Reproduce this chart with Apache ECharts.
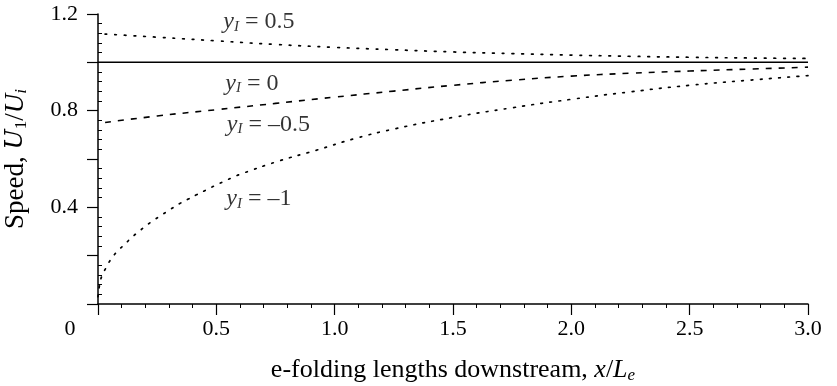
<!DOCTYPE html>
<html>
<head>
<meta charset="utf-8">
<script src="https://cdn.jsdelivr.net/npm/echarts@6/dist/echarts.min.js"></script>
<style>
  html, body { margin: 0; padding: 0; background: #fff; }
  #chart { width: 837px; height: 386px; }
</style>
</head>
<body>
<div id="chart"></div>
<script>
// axis ticks
var xTicks = [0, 0.5, 1.0, 1.5, 2.0, 2.5, 3.0];
var yLabelled = [0.4, 0.8, 1.2];

// y_I = 0.5 (dotted, decaying from above)
var xHalf = [0.03, 0.25, 0.5, 0.75, 1.0, 1.25, 1.5, 1.75, 2.0, 2.25, 2.5, 2.75, 3.0];
var yHalf = [1.117, 1.104, 1.089, 1.074, 1.062, 1.052, 1.043, 1.036, 1.030, 1.025, 1.021, 1.018, 1.016];

// y_I = 0 (solid)
var xZero = [0, 3.0];
var yZero = [1.0, 1.0];

// y_I = -0.5 (dashed)
var xMinusHalf = [0.03, 0.25, 0.5, 0.75, 1.0, 1.25, 1.5, 1.75, 2.0, 2.25, 2.5, 2.75, 3.0];
var yMinusHalf = [0.751, 0.778, 0.804, 0.830, 0.856, 0.881, 0.905, 0.926, 0.943, 0.955, 0.964, 0.972, 0.980];

// y_I = -1 (dotted, steep near the origin)
var xMinusOne = [0.0, 0.006, 0.016, 0.037, 0.058, 0.086, 0.112, 0.142, 0.174, 0.207, 0.239, 0.275,
                 0.308, 0.344, 0.379, 0.416, 0.455, 0.492, 0.529, 0.567, 0.604, 0.762, 0.918,
                 1.087, 1.25, 1.5, 1.75, 2.0, 2.25, 2.5, 2.75, 3.0];
var yMinusOne = [0.030, 0.075, 0.115, 0.155, 0.190, 0.222, 0.246, 0.275, 0.301, 0.327, 0.349, 0.372,
                 0.393, 0.415, 0.433, 0.452, 0.471, 0.489, 0.506, 0.523, 0.538, 0.591, 0.635,
                 0.685, 0.724, 0.772, 0.812, 0.847, 0.878, 0.905, 0.926, 0.945];

// curve labels
var labelNames = ['0.5', '0', '–0.5', '–1'];
var labelX = [0.68, 0.65, 0.72, 0.68];
var labelY = [1.168, 0.913, 0.743, 0.434];

function pairs(xs, ys) {
    return xs.map(function (x, i) { return [x, ys[i]]; });
}

var serif = 'Liberation Serif';
var ink = '#000';

var chart = echarts.init(document.getElementById('chart'));

var option = {
    backgroundColor: '#fff',
    animation: false,
    grid: {
        left: 98,
        right: 29,
        top: 14,
        bottom: 82,
        outerBoundsMode: 'none'
    },
    xAxis: {
        type: 'value',
        min: 0,
        max: 3,
        interval: 0.5,
        name: 'e-folding lengths downstream, {i|x}/{i|L}{sub|e}',
        nameLocation: 'middle',
        nameGap: 52,
        nameTextStyle: {
            fontFamily: serif,
            fontSize: 26,
            color: ink,
            rich: {
                i: { fontFamily: serif, fontStyle: 'italic', fontSize: 26, color: ink },
                sub: { fontFamily: serif, fontStyle: 'italic', fontSize: 17, color: ink, padding: [11, 0, 0, 0] }
            }
        },
        axisLine: { lineStyle: { color: ink, width: 1.5 } },
        axisTick: { length: 11, lineStyle: { color: ink, width: 1.2 } },
        minorTick: { show: true, splitNumber: 5, length: 4, lineStyle: { color: ink, width: 1 } },
        splitLine: { show: false },
        axisLabel: {
            margin: 14,
            color: ink,
            fontFamily: serif,
            fontSize: 22,
            formatter: function (v) {
                if (xTicks.indexOf(v) < 0) return '';
                if (v === 0) return '{zero|0}';
                return v.toFixed(1);
            },
            rich: {
                zero: { fontFamily: serif, fontSize: 22, color: ink, padding: [0, 56, 0, 0] }
            }
        }
    },
    yAxis: [
        {
            type: 'value',
            min: 0,
            max: 1.2,
            interval: 0.2,
            name: '{t|Speed, }{s|U}{sub|1}{t|/}{i|U}{subi|i}',
            nameLocation: 'middle',
            nameRotate: 90,
            nameGap: 68,
            nameTextStyle: {
                rich: {
                    t: { fontFamily: serif, fontSize: 27, color: ink },
                    s: { fontFamily: 'DejaVu Serif', fontStyle: 'italic', fontSize: 24, color: ink },
                    i: { fontFamily: serif, fontStyle: 'italic', fontSize: 27, color: ink },
                    sub: { fontFamily: serif, fontSize: 17, color: ink, padding: [11, 0, 0, 0] },
                    subi: { fontFamily: serif, fontStyle: 'italic', fontSize: 17, color: ink, padding: [11, 0, 0, 0] }
                }
            },
            axisLine: { show: true, lineStyle: { color: ink, width: 1.5 } },
            axisTick: { length: 11, lineStyle: { color: ink, width: 1.2 } },
            splitLine: { show: false },
            axisLabel: {
                margin: 20,
                color: ink,
                fontFamily: serif,
                fontSize: 22,
                formatter: function (v) {
                    var r = Math.round(v * 10) / 10;
                    return yLabelled.indexOf(r) >= 0 ? r.toFixed(1) : '';
                }
            }
        },
        {
            // second copy only for the small inward minor ticks
            type: 'value',
            position: 'left',
            min: 0,
            max: 1.2,
            interval: 0.2,
            axisLine: { show: false },
            axisTick: { show: false, inside: true },
            minorTick: { show: true, splitNumber: 5, length: 4, lineStyle: { color: ink, width: 1 } },
            splitLine: { show: false },
            axisLabel: { show: false }
        }
    ],
    series: [
        {
            name: 'yI=0.5',
            type: 'line',
            data: pairs(xHalf, yHalf),
            smooth: true,
            showSymbol: false,
            lineStyle: { color: ink, width: 1.7, type: [1.7, 8], cap: 'round' }
        },
        {
            name: 'yI=0',
            type: 'line',
            data: pairs(xZero, yZero),
            showSymbol: false,
            lineStyle: { color: ink, width: 1.5, type: 'solid' }
        },
        {
            name: 'yI=-0.5',
            type: 'line',
            data: pairs(xMinusHalf, yMinusHalf),
            smooth: true,
            showSymbol: false,
            lineStyle: { color: ink, width: 1.6, type: [6, 7] }
        },
        {
            name: 'yI=-1',
            type: 'line',
            data: pairs(xMinusOne, yMinusOne),
            smooth: true,
            showSymbol: false,
            lineStyle: { color: ink, width: 1.7, type: [1.7, 7.5], cap: 'round' }
        },
        {
            name: 'labels',
            type: 'scatter',
            symbolSize: 0,
            silent: true,
            data: labelNames.map(function (n, i) {
                return { name: n, value: [labelX[i], labelY[i]] };
            }),
            label: {
                show: true,
                position: 'inside',
                formatter: function (p) {
                    return '{i|y}{sub|I}{t| = ' + p.name + '}';
                },
                rich: {
                    i: { fontFamily: serif, fontStyle: 'italic', fontSize: 24, color: ink },
                    sub: { fontFamily: serif, fontStyle: 'italic', fontSize: 15, color: ink, padding: [10, 0, 0, 0] },
                    t: { fontFamily: serif, fontSize: 24, color: ink }
                }
            }
        }
    ]
};

chart.setOption(option);
</script>
</body>
</html>
